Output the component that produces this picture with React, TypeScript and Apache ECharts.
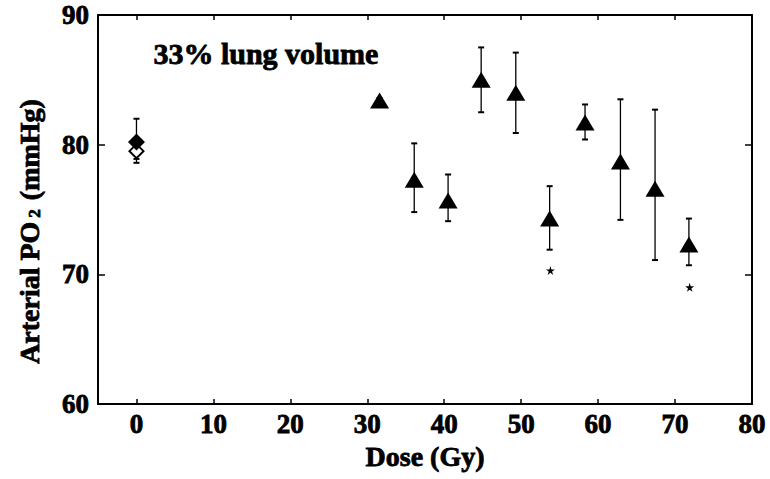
import React, { useEffect, useRef } from "react";
import * as echarts from "echarts";

// ---- data ----
const xTicks = [0, 10, 20, 30, 40, 50, 60, 70, 80];

// irradiated groups (triangles)
const doses = [31.6, 36.1, 40.5, 44.8, 49.3, 53.7, 58.3, 62.9, 67.4, 71.8];
const po2 = [83.4, 77.3, 75.7, 85.0, 84.0, 74.3, 81.7, 78.7, 76.6, 72.3];
const po2Low = [83.2, 74.8, 74.1, 82.5, 80.9, 71.9, 80.4, 74.2, 71.1, 70.7];
const po2High = [83.6, 80.1, 77.7, 87.5, 87.1, 76.8, 83.1, 83.5, 82.7, 74.3];

// controls at 0 Gy
const controlDose = [0];
const controlFilled = [80.2];
const controlFilledLow = [78.9];
const controlFilledHigh = [82.0];
const controlOpen = [79.5];
const controlOpenLow = [78.6];
const controlOpenHigh = [80.4];

// significance markers
const sigDoses = [53.8, 71.9];
const sigY = [70.3, 69.0];

const FONT = '"Liberation Serif", "Times New Roman", serif';
const STAR =
  "path://M50,0 L61,35 L98,35 L68,57 L79,91 L50,70 L21,91 L32,57 L2,35 L39,35 Z";

const heavy = { textBorderColor: "#000", textBorderWidth: 0.8 };

export default function App() {
  const ref = useRef<HTMLDivElement>(null);
  useEffect(() => {
    if (!ref.current) return;
    const chart = echarts.init(ref.current, undefined, { renderer: "svg" });

    const errData = [
      ...controlDose.map((d, i) => [d, controlOpenLow[i], controlOpenHigh[i]]),
      ...controlDose.map((d, i) => [d, controlFilledLow[i], controlFilledHigh[i]]),
      ...doses.map((d, i) => [d, po2Low[i], po2High[i]]),
    ];

    const axisLineStyle = { color: "#000", width: 2 };
    const xAxisBase = {
      type: "value",
      min: -5,
      max: 80,
      splitLine: { show: false },
      axisLine: { show: true, onZero: false, lineStyle: axisLineStyle },
    };
    const yAxisBase = {
      type: "value",
      min: 60,
      max: 90,
      interval: 10,
      splitLine: { show: false },
      axisLine: { show: true, onZero: false, lineStyle: axisLineStyle },
    };

    chart.setOption({
      animation: false,
      backgroundColor: "#fff",
      grid: { left: 98, right: 18, top: 15, bottom: 75 },
      xAxis: [
        {
          ...xAxisBase,
          position: "bottom",
          name: "Dose (Gy)",
          nameLocation: "middle",
          nameGap: 38,
          nameTextStyle: {
            fontFamily: FONT,
            fontWeight: "bold",
            fontSize: 28,
            color: "#000",
            ...heavy,
          },
          axisTick: {
            show: true,
            inside: true,
            length: 5,
            customValues: xTicks,
            lineStyle: { color: "#000", width: 1.5 },
          },
          axisLabel: {
            customValues: xTicks,
            margin: 6,
            fontFamily: FONT,
            fontWeight: "bold",
            fontSize: 27,
            color: "#000",
            ...heavy,
          },
        },
        {
          ...xAxisBase,
          position: "top",
          axisTick: {
            show: true,
            inside: true,
            length: 5,
            customValues: xTicks,
            lineStyle: { color: "#000", width: 1.5 },
          },
          axisLabel: { show: false },
        },
      ],
      yAxis: [
        {
          ...yAxisBase,
          position: "left",
          name: "{a|Arterial PO}{s|2}{a| (mmHg)}",
          nameLocation: "middle",
          nameGap: 55,
          nameRotate: 90,
          nameTextStyle: {
            padding: [0, 44, 0, 0],
            rich: {
              a: {
                fontFamily: FONT,
                fontWeight: "bold",
                fontSize: 28,
                color: "#000",
                ...heavy,
              },
              s: {
                fontFamily: FONT,
                fontWeight: "bold",
                fontSize: 17,
                color: "#000",
                verticalAlign: "bottom",
                padding: [0, 2, 0, 4],
                ...heavy,
              },
            },
          },
          axisTick: {
            show: true,
            inside: true,
            length: 7,
            lineStyle: { color: "#000", width: 1.5 },
          },
          axisLabel: {
            margin: 9,
            fontFamily: FONT,
            fontWeight: "bold",
            fontSize: 27,
            color: "#000",
            ...heavy,
          },
        },
        {
          ...yAxisBase,
          position: "right",
          axisTick: {
            show: true,
            inside: true,
            length: 7,
            lineStyle: { color: "#000", width: 1.5 },
          },
          axisLabel: { show: false },
        },
      ],
      graphic: [
        {
          type: "text",
          left: 153,
          top: 38,
          style: {
            text: "33% lung volume",
            fontFamily: FONT,
            fontWeight: "bold",
            fontSize: 30,
            fill: "#000",
            stroke: "#000",
            lineWidth: 0.8,
          },
        },
      ],
      series: [
        {
          type: "custom",
          xAxisIndex: 0,
          yAxisIndex: 0,
          z: 1,
          data: errData,
          encode: { x: 0, y: [1, 2] },
          renderItem: (params: any, api: any) => {
            const x = api.value(0);
            const lo = api.coord([x, api.value(1)]);
            const hi = api.coord([x, api.value(2)]);
            const w = 3;
            const style = { stroke: "#000", lineWidth: 1.3 };
            return {
              type: "group",
              children: [
                { type: "line", shape: { x1: lo[0], y1: lo[1], x2: hi[0], y2: hi[1] }, style },
                { type: "line", shape: { x1: lo[0] - w, y1: lo[1], x2: lo[0] + w, y2: lo[1] }, style: { ...style, lineWidth: 2 } },
                { type: "line", shape: { x1: hi[0] - w, y1: hi[1], x2: hi[0] + w, y2: hi[1] }, style: { ...style, lineWidth: 2 } },
              ],
            };
          },
        },
        {
          type: "scatter",
          name: "control (open)",
          z: 2,
          symbol: "diamond",
          symbolSize: 14,
          itemStyle: { color: "#fff", borderColor: "#000", borderWidth: 2, opacity: 1 },
          data: controlDose.map((d, i) => [d, controlOpen[i]]),
        },
        {
          type: "scatter",
          name: "control",
          z: 3,
          symbol: "diamond",
          symbolSize: 17,
          itemStyle: { color: "#000", opacity: 1 },
          data: controlDose.map((d, i) => [d, controlFilled[i]]),
        },
        {
          type: "scatter",
          name: "33% lung volume",
          z: 3,
          symbol: "triangle",
          symbolSize: [19, 16],
          itemStyle: { color: "#000", opacity: 1 },
          data: doses.map((d, i) => [d, po2[i]]),
        },
        {
          type: "scatter",
          name: "significant",
          z: 3,
          symbol: STAR,
          symbolSize: 9,
          itemStyle: { color: "#000", opacity: 1 },
          data: sigDoses.map((d, i) => [d, sigY[i]]),
        },
      ],
    });
    return () => chart.dispose();
  }, []);
  return (
    <div
      ref={ref}
      style={{ position: "absolute", left: 0, top: 0, width: 770, height: 479 }}
    />
  );
}
